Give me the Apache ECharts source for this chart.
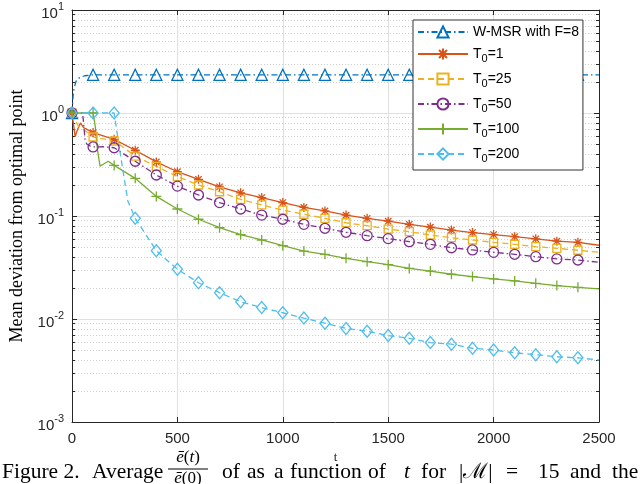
<!DOCTYPE html>
<html><head><meta charset="utf-8">
<script src="https://cdn.jsdelivr.net/npm/echarts@6/dist/echarts.min.js"></script>
<style>html,body{margin:0;padding:0;background:#fff}#c{width:640px;height:484px}</style>
</head><body><div id="c"></div><script>
// ---- data ----
const seriesNames = ['W-MSR with F=8', 'T0=1', 'T0=25', 'T0=50', 'T0=100', 'T0=200'];
const xTicks = [0, 500, 1000, 1500, 2000, 2500];
const yTicks = [0.001, 0.01, 0.1, 1, 10];

const tW = [0,5,10,20,35,60,100,200,300,400,500,600,700,800,900,1000,1100,1200,1300,1400,1500,1600,1700,1800,1900,2000,2100,2200,2300,2400,2500];
const vW = [1,1.45,1.75,2.05,2.2,2.3,2.35,2.35,2.35,2.35,2.35,2.35,2.35,2.35,2.35,2.35,2.35,2.35,2.35,2.35,2.35,2.35,2.35,2.35,2.35,2.35,2.35,2.35,2.35,2.35,2.35];

const t1 = [0,8,15,25,40,55,100,200,300,400,500,600,700,800,900,1000,1100,1200,1300,1400,1500,1600,1700,1800,1900,2000,2100,2200,2300,2400,2500];
const v1 = [1,0.75,0.59,0.68,0.8,0.72,0.645,0.555,0.435,0.335,0.269,0.227,0.192,0.168,0.151,0.135,0.121,0.112,0.102,0.095,0.089,0.083,0.078,0.073,0.069,0.066,0.063,0.060,0.057,0.0555,0.052];

const t25 = [0,15,30,60,100,200,300,400,500,600,700,800,900,1000,1100,1200,1300,1400,1500,1600,1700,1800,1900,2000,2100,2200,2300,2400,2500];
const v25 = [1,0.85,0.75,0.68,0.585,0.535,0.382,0.303,0.241,0.200,0.172,0.145,0.128,0.114,0.104,0.095,0.086,0.0805,0.0745,0.0704,0.0654,0.0616,0.0585,0.0555,0.0531,0.0504,0.0486,0.0465,0.0444];

const t50 = [0,50,55,62,70,85,100,150,200,300,400,500,600,700,800,900,1000,1100,1200,1300,1400,1500,1600,1700,1800,1900,2000,2100,2200,2300,2400,2500];
const v50 = [1,1,0.8,0.55,0.5,0.48,0.468,0.47,0.46,0.34,0.25,0.195,0.160,0.135,0.117,0.102,0.093,0.083,0.076,0.0695,0.0644,0.0603,0.0563,0.0531,0.0492,0.0468,0.0444,0.0425,0.0403,0.0383,0.0374,0.0355];

const t100 = [0,100,110,120,133,150,172,200,300,400,500,600,700,800,900,1000,1100,1200,1300,1400,1500,1600,1700,1800,1900,2000,2100,2200,2300,2400,2500];
const v100 = [1,1,0.75,0.45,0.305,0.32,0.34,0.31,0.232,0.155,0.117,0.093,0.077,0.066,0.0585,0.0515,0.0457,0.0425,0.0388,0.036,0.0337,0.031,0.0292,0.0272,0.0258,0.0245,0.0234,0.0222,0.0211,0.0203,0.0196];

const t200 = [0,100,200,205,215,240,265,300,400,500,600,700,800,900,1000,1100,1200,1300,1400,1500,1600,1700,1800,1900,2000,2100,2200,2300,2400,2500];
const v200 = [1,1,1,0.85,0.62,0.29,0.14,0.095,0.046,0.0304,0.0225,0.018,0.0147,0.0129,0.0115,0.0102,0.0091,0.0081,0.0076,0.0069,0.0065,0.0059,0.0057,0.0052,0.0050,0.0047,0.0045,0.0043,0.0042,0.0040];

// caption pieces (text only)
const captionWords = ['Figure 2.', 'Average', 'of', 'as', 'a', 'function', 'of', 't', 'for', '|ℳ|', '=', '15', 'and', 'the'];

// ---- styling ----
const colors = ['#0072BD', '#D95319', '#EDB120', '#7E2F8E', '#77AC30', '#4DBEEE'];
const AX = '#262626';
const SANS = '"Liberation Sans", Arial, Helvetica, sans-serif';
const SERIF = '"Liberation Serif", "Times New Roman", serif';
const dashDot = [6, 3, 1.5, 3];
const dashed = [6, 4];
const STAR = 'path://M0,-10L0,10M-10,0L10,0M-7.1,-7.1L7.1,7.1M-7.1,7.1L7.1,-7.1';
const PLUS = 'path://M0,-10L0,10M-10,0L10,0';

const specs = [
  {t: tW, v: vW, sym: 'triangle', size: 11, dash: dashDot},
  {t: t1, v: v1, sym: STAR, size: 9, dash: 'solid'},
  {t: t25, v: v25, sym: 'rect', size: 8, dash: dashed},
  {t: t50, v: v50, sym: 'circle', size: 10, dash: dashDot},
  {t: t100, v: v100, sym: PLUS, size: 10, dash: 'solid'},
  {t: t200, v: v200, sym: 'diamond', size: [10, 12], dash: dashed}
];

const series = specs.map((s, k) => ({
  name: seriesNames[k],
  type: 'line',
  xAxisIndex: 0, yAxisIndex: 0,
  symbol: s.sym,
  symbolSize: s.size,
  showAllSymbol: true,
  animation: false,
  lineStyle: {color: colors[k], width: 1.3, type: s.dash},
  itemStyle: {color: 'rgba(255,255,255,0)', borderColor: colors[k], borderWidth: 1.3},
  emphasis: {disabled: true},
  data: s.t.map((x, i) => {
    const item = {value: [x, s.v[i]]};
    if (x % 100 !== 0 || x >= 2500) item.symbol = 'none';
    return item;
  })
}));

const supRich = {
  b: {fontSize: 15, fontFamily: SANS, color: AX, padding: [7, 0, 0, 0]},
  s: {fontSize: 11, fontFamily: SANS, color: AX, padding: [0, 0, 7, 0]}
};

const CAP = '21.5px ' + SERIF;
const CAPI = 'italic 21.5px ' + SERIF;
const capText = (txt, x, font) => ({type: 'text', x: x, y: 472, z: 100,
  style: {text: txt, font: font || CAP, fill: '#000', verticalAlign: 'middle', align: 'left'}});
const fracRich = {i: {font: 'italic 17px ' + SERIF, fill: '#000'}, n: {font: '17px ' + SERIF, fill: '#000'}};
const capX = [2, 92, 222, 247, 274, 290, 368, 404, 421, 459, 506, 538, 570, 612];

const chart = echarts.init(document.getElementById('c'), null, {renderer: 'canvas'});
const graphics = [
  {type: 'text', x: 188, y: 458, z: 100,
    style: {text: '{i|ē}{n|(}{i|t}{n|)}', align: 'center', verticalAlign: 'middle', rich: fracRich}},
  {type: 'line', z: 100, shape: {x1: 168, y1: 469, x2: 208, y2: 469}, style: {stroke: '#000', lineWidth: 1}},
  {type: 'text', x: 188, y: 479, z: 100,
    style: {text: '{i|ē}{n|(0)}', align: 'center', verticalAlign: 'middle', rich: fracRich}}
];
captionWords.forEach((w, i) => graphics.push(capText(w, capX[i], w === 't' ? CAPI : CAP)));

chart.setOption({
  animation: false,
  backgroundColor: '#fff',
  grid: {left: 72, right: 41, top: 10, bottom: 62, containLabel: false},
  legend: {
    orient: 'vertical', left: 413, top: 20,
    padding: [5, 4, 6, 4],
    itemWidth: 50, itemHeight: 14, itemGap: 8, itemTextGap: 4,
    backgroundColor: '#fff', borderColor: '#333', borderWidth: 1, borderRadius: 0,
    selectedMode: false,
    data: seriesNames,
    formatter: name => name.replace('T0', 'T{sub|0}'),
    textStyle: {
      fontFamily: SANS, fontSize: 14, color: '#000',
      rich: {sub: {fontFamily: SANS, fontSize: 11, color: '#000', padding: [9, 0, 0, 0]}}
    }
  },
  xAxis: [{
    type: 'value', min: 0, max: 2500, interval: 500, position: 'bottom',
    name: 't', nameLocation: 'middle', nameGap: 22,
    nameTextStyle: {fontFamily: SERIF, fontSize: 13, color: AX},
    axisLine: {show: true, onZero: false, lineStyle: {color: AX, width: 1}},
    axisTick: {show: true, inside: true, length: 5, lineStyle: {color: AX}},
    axisLabel: {show: true, margin: 9, fontFamily: SANS, fontSize: 15, color: AX,
      formatter: v => String(v)},
    splitLine: {show: true, lineStyle: {color: '#e0e0e0', width: 1}}
  }, {
    type: 'value', min: 0, max: 2500, interval: 500, position: 'top',
    axisLine: {show: true, onZero: false, lineStyle: {color: AX, width: 1}},
    axisTick: {show: true, inside: true, length: 5, lineStyle: {color: AX}},
    axisLabel: {show: false},
    splitLine: {show: false}
  }],
  yAxis: [{
    type: 'log', logBase: 10, min: 0.001, max: 10, position: 'left',
    name: 'Mean deviation from optimal point', nameLocation: 'middle', nameGap: 44,
    nameTextStyle: {fontFamily: SERIF, fontSize: 18, color: '#000'},
    axisLine: {show: true, onZero: false, lineStyle: {color: AX, width: 1}},
    axisTick: {show: true, inside: true, length: 5, lineStyle: {color: AX}},
    minorTick: {show: true, splitNumber: 9, length: 3, lineStyle: {color: AX}},
    axisLabel: {
      margin: 8,
      formatter: v => '{b|10}{s|' + Math.round(Math.log10(v)) + '}',
      rich: supRich
    },
    splitLine: {show: true, lineStyle: {color: '#e0e0e0', width: 1}},
    minorSplitLine: {show: true, lineStyle: {color: '#cfcfcf', width: 1, type: [1, 2]}}
  }, {
    type: 'log', logBase: 10, min: 0.001, max: 10, position: 'right',
    axisLine: {show: true, onZero: false, lineStyle: {color: AX, width: 1}},
    axisTick: {show: true, inside: true, length: 5, lineStyle: {color: AX}},
    minorTick: {show: true, splitNumber: 9, length: 3, lineStyle: {color: AX}},
    axisLabel: {show: false},
    splitLine: {show: false}
  }],
  series: series,
  graphic: graphics
});
</script></body></html>
